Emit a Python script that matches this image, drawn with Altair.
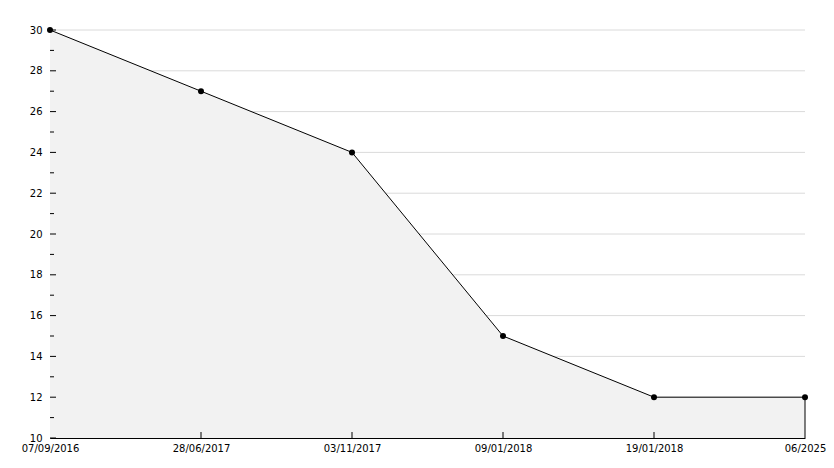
import altair as alt
import pandas as pd

dates = ["07/09/2016", "28/06/2017", "03/11/2017", "09/01/2018", "19/01/2018", "06/2025"]
values = [30, 27, 24, 15, 12, 12]
major_ticks = [10, 12, 14, 16, 18, 20, 22, 24, 26, 28, 30]
minor_ticks = [11, 13, 15, 17, 19, 21, 23, 25, 27, 29]

df = pd.DataFrame({"date": dates, "value": values})
W, H = 755, 408
FONT = "DejaVu Sans"

xscale = alt.Scale(type="point", padding=0, domain=dates)
yscale = alt.Scale(domain=[10, 30], nice=False, zero=False)

xaxis = alt.Axis(title=None, labelAngle=0, labelFont=FONT, labelFontSize=10,
                 labelColor="black", ticks=False, labelPadding=5,
                 domainColor="black", grid=False, labelOverlap=False)
yaxis = alt.Axis(title=None, values=major_ticks, labelFont=FONT, labelFontSize=10,
                 labelColor="black", ticks=False, labelPadding=8,
                 domainColor="black", grid=False)
xn = alt.X("date:O", sort=None, scale=xscale, axis=xaxis)
yn = alt.Y("value:Q", scale=yscale, axis=yaxis)

base = alt.Chart(df)
grid = alt.Chart(pd.DataFrame({"value": major_ticks[1:]})).mark_rule(color="#dadada").encode(
    y=yn, x=alt.value(0), x2=alt.value(W))
area = base.mark_area(color="#f2f2f2", opacity=1).encode(x=xn, y=yn, y2=alt.datum(10))
line = base.mark_line(color="black", strokeWidth=1).encode(x=xn, y=yn)
pts = base.mark_point(shape="circle", filled=True, color="black", size=36, opacity=1).encode(x=xn, y=yn)

# last-point vertical edge of the area
edge = base.transform_filter(alt.datum.date == dates[-1]).mark_rule(color="black").encode(
    x=xn, y=yn, y2=alt.datum(10))

maj = alt.Chart(pd.DataFrame({"value": major_ticks})).mark_rule(color="black").encode(
    y=yn, x=alt.value(0), x2=alt.value(6))
mnr = alt.Chart(pd.DataFrame({"value": minor_ticks})).mark_rule(color="black").encode(
    y=yn, x=alt.value(0), x2=alt.value(4))
xt = alt.Chart(pd.DataFrame({"date": dates[1:-1]})).mark_rule(color="black").encode(
    x=xn, y=alt.value(H), y2=alt.value(H - 6))

chart = alt.layer(grid, area, line, edge, pts, maj, mnr, xt).properties(
    width=W, height=H, autosize=alt.AutoSizeParams(type="none"),
    padding={"left": 42, "top": 22, "right": 21, "bottom": 30},
    background="white"
).configure_view(stroke="transparent", strokeWidth=0).configure_axis(grid=False)

chart.save("out.html", embed_options={"renderer": "svg", "actions": False})
